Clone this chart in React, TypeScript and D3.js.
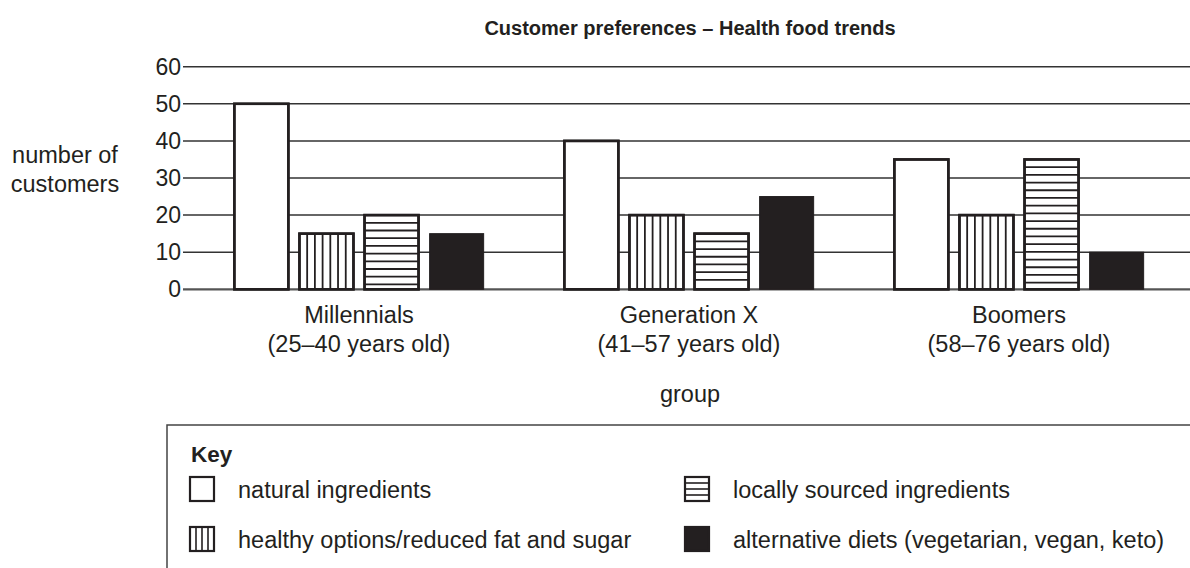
import React from "react";
import * as d3 from "d3";

const groups = ["Millennials", "Generation X", "Boomers"];
const groupSubLabels = ["(25–40 years old)", "(41–57 years old)", "(58–76 years old)"];
const seriesKeys = ["natural", "healthy", "local", "alternative"];
const seriesLabels = [
  "natural ingredients",
  "healthy options/reduced fat and sugar",
  "locally sourced ingredients",
  "alternative diets (vegetarian, vegan, keto)",
];
const naturalValues = [50, 40, 35];
const healthyValues = [15, 20, 20];
const localValues = [20, 15, 35];
const alternativeValues = [15, 25, 10];
const yTicks = [0, 10, 20, 30, 40, 50, 60];

const seriesValues = [naturalValues, healthyValues, localValues, alternativeValues];

const W = 1190;
const H = 568;
const INK = "#231f20";
const FONT = "'Liberation Sans', Arial, Helvetica, sans-serif";
const FS = 23;
const LFS = 23.5;

export default function App() {
  const y = d3.scaleLinear().domain([0, 60]).range([289.3, 66.7]);
  const x0 = d3.scaleBand<string>().domain(groups).range([194, 1184]).padding(0);
  const x1 = d3
    .scaleBand<string>()
    .domain(seriesKeys)
    .range([0, x0.bandwidth()])
    .paddingInner(0.17)
    .paddingOuter(0.62);
  const bw = x1.bandwidth();

  const bars: any[] = [];
  groups.forEach((g, gi) => {
    seriesKeys.forEach((s, si) => {
      const v = seriesValues[si][gi];
      const bx = (x0(g) as number) + (x1(s) as number);
      const by = y(v);
      const bh = y(0) - by;
      bars.push({ g, s, si, v, bx, by, bh });
    });
  });

  const stripeGap = 7.7;

  const renderPattern = (b: any) => {
    const lines: React.ReactNode[] = [];
    if (b.s === "healthy") {
      const n = 7;
      for (let k = 1; k < n; k++) {
        const lx = b.bx + (bw * k) / n;
        lines.push(
          <line key={k} x1={lx} x2={lx} y1={b.by} y2={b.by + b.bh} stroke={INK} strokeWidth={1.8} />
        );
      }
    } else if (b.s === "local") {
      for (let ly = b.by + stripeGap; ly < b.by + b.bh - 2; ly += stripeGap) {
        lines.push(
          <line key={ly} x1={b.bx} x2={b.bx + bw} y1={ly} y2={ly} stroke={INK} strokeWidth={1.8} />
        );
      }
    }
    return lines;
  };

  const legendItems = seriesKeys.map((s, i) => ({
    s,
    label: seriesLabels[i],
    x: i === 0 || i === 1 ? 190 : 685,
    y: i === 0 || i === 2 ? 477 : 527,
  }));
  const sq = 24;

  const legendSymbol = (it: any) => {
    const els: React.ReactNode[] = [];
    els.push(
      <rect
        key="r"
        x={it.x}
        y={it.y}
        width={sq}
        height={sq}
        fill={it.s === "alternative" ? INK : "#fff"}
        stroke={INK}
        strokeWidth={2.2}
      />
    );
    if (it.s === "healthy") {
      for (let k = 1; k < 4; k++) {
        const lx = it.x + (sq * k) / 4;
        els.push(<line key={k} x1={lx} x2={lx} y1={it.y} y2={it.y + sq} stroke={INK} strokeWidth={1.6} />);
      }
    } else if (it.s === "local") {
      for (let k = 1; k < 4; k++) {
        const ly = it.y + (sq * k) / 4;
        els.push(<line key={k} x1={it.x} x2={it.x + sq} y1={ly} y2={ly} stroke={INK} strokeWidth={1.6} />);
      }
    }
    return els;
  };

  return (
    <svg
      width={W}
      height={H}
      style={{ position: "absolute", left: 0, top: 0, background: "#fff" }}
      fontFamily={FONT}
    >
      <rect x={0} y={0} width={W} height={H} fill="#fff" />
      <text x={690} y={35} textAnchor="middle" fontWeight="bold" fontSize={20} fill={INK}>
        Customer preferences – Health food trends
      </text>

      {/* gridlines */}
      {yTicks.map((t) => (
        <g key={t}>
          <line
            x1={183}
            x2={W}
            y1={y(t)}
            y2={y(t)}
            stroke={t === 0 ? "#555" : "#333"}
            strokeWidth={t === 0 ? 2.2 : 1.5}
          />
          <text x={181} y={y(t)} dy="0.35em" textAnchor="end" fontSize={FS} fill={INK}>
            {t}
          </text>
        </g>
      ))}

      {/* y label */}
      <text x={65} y={163} textAnchor="middle" fontSize={LFS} fill={INK}>
        number of
      </text>
      <text x={65} y={192} textAnchor="middle" fontSize={LFS} fill={INK}>
        customers
      </text>

      {/* bars */}
      {bars.map((b, i) => (
        <g key={i}>
          <rect
            x={b.bx}
            y={b.by}
            width={bw}
            height={b.bh}
            fill={b.s === "alternative" ? INK : "#fff"}
            stroke={INK}
            strokeWidth={b.s === "alternative" ? 1 : 2.5}
          />
          {renderPattern(b)}
          {b.s !== "alternative" && (
            <rect x={b.bx} y={b.by} width={bw} height={b.bh} fill="none" stroke={INK} strokeWidth={2.5} />
          )}
        </g>
      ))}

      {/* category labels */}
      {groups.map((g, i) => {
        const cx = (x0(g) as number) + x0.bandwidth() / 2;
        return (
          <g key={g}>
            <text x={cx} y={323} textAnchor="middle" fontSize={LFS} fill={INK}>
              {g}
            </text>
            <text x={cx} y={352} textAnchor="middle" fontSize={LFS} fill={INK}>
              {groupSubLabels[i]}
            </text>
          </g>
        );
      })}

      <text x={690} y={402} textAnchor="middle" fontSize={LFS} fill={INK}>
        group
      </text>

      {/* legend */}
      <rect x={167} y={425} width={1200} height={300} fill="none" stroke="#444" strokeWidth={1.5} />
      <text x={191} y={462} fontWeight="bold" fontSize={22.5} fill={INK}>
        Key
      </text>
      {legendItems.map((it) => (
        <g key={it.s}>
          {legendSymbol(it)}
          <text x={it.x + 48} y={it.y + 21} fontSize={LFS} fill={INK}>
            {it.label}
          </text>
        </g>
      ))}
    </svg>
  );
}
